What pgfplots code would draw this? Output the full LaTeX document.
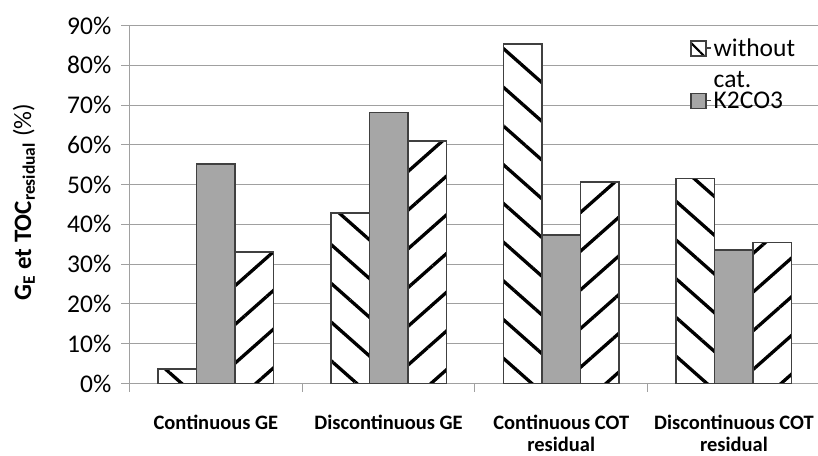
\documentclass[border=0pt]{standalone}
\usepackage{fontspec}
\setmainfont{Carlito}
\usepackage{pgfplots}
\pgfplotsset{compat=1.18}
\usetikzlibrary{patterns.meta}
\definecolor{barfill}{HTML}{A6A6A6}
\definecolor{bordercol}{HTML}{404040}
\definecolor{gridcol}{HTML}{A0A0A0}
\begin{document}
\begin{tikzpicture}
\useasboundingbox (-129.5pt,-71.5pt) rectangle (688.5pt,383.5pt);
\begin{axis}[
  at={(0pt,0pt)}, anchor=south west,
  scale only axis, width=690.8pt, height=358pt,
  xmin=-0.5, xmax=3.5, ymin=0, ymax=90,
  axis x line*=bottom, axis y line*=left,
  axis line style={gridcol, line width=1pt},
  ytick={0,10,...,90},
  yticklabels={0\%,10\%,20\%,30\%,40\%,50\%,60\%,70\%,80\%,90\%},
  yticklabel style={font=\fontsize{25.5}{28}\selectfont, anchor=east, inner sep=0pt, xshift=-10pt},
  ymajorgrids, grid style={gridcol, line width=1pt},
  xtick={-0.5,0.5,1.5,2.5,3.5}, xticklabels={},
  major tick length=8pt, tick align=outside,
  tick style={gridcol, line width=1pt},
  extra x ticks={0,1,2,3},
  extra x tick labels={Continuous GE, Discontinuous GE, {Continuous COT\\residual}, {Discontinuous COT\\residual}},
  extra x tick style={major tick length=0pt, grid=none},
  xticklabel style={font=\bfseries\fontsize{20.5}{22.5}\selectfont, align=center, anchor=north, inner sep=0pt, yshift=-31pt},
  ylabel={\textbf{G\textsubscript{E} et TOC\textsubscript{residual}} (\%)},
  ylabel style={at={(axis description cs:-0.1527,0.507)}, anchor=center, font=\fontsize{25}{30}\selectfont},
  legend style={draw=none, fill=none, at={(axis description cs:0.811,0.970)}, anchor=north west,
    inner sep=0pt, font=\fontsize{25.5}{30}\selectfont, row sep=30pt},
  legend cell align=left,
]
\addplot[ybar, bar width=0.223, bar shift=-0.223, draw=bordercol, line width=1.5pt,
  preaction={fill=white}, pattern={Lines[angle=-41.5,distance=29pt,line width=3.3pt]}, pattern color=black,
  legend image code/.code={\path (0pt,0pt) -- (20pt,0pt);\draw[draw=bordercol, line width=1.5pt, preaction={fill=white}, pattern={Lines[angle=-45,distance=20pt,line width=2pt]}, pattern color=black] (0pt,-8pt) rectangle (15pt,7pt);}]
  coordinates {(0,3.6) (1,42.9) (2,85.3) (3,51.6)};
\addlegendentry{\smash{\rlap{\raisebox{-31.7pt}{cat.}}}without}
\addplot[ybar, bar width=0.223, bar shift=0, draw=bordercol, line width=1.5pt, fill=barfill,
  legend image code/.code={\path (0pt,0pt) -- (20pt,0pt);\draw[draw=bordercol, line width=1.5pt, fill=barfill] (0pt,-8pt) rectangle (15pt,7pt);}]
  coordinates {(0,55.2) (1,68.1) (2,37.3) (3,33.5)};
\addlegendentry{K2CO3}
\addplot[ybar, bar width=0.223, bar shift=0.223, draw=bordercol, line width=1.5pt,
  preaction={fill=white}, pattern={Lines[angle=41.5,distance=29pt,line width=3.3pt]}, pattern color=black, forget plot]
  coordinates {(0,33.0) (1,61.0) (2,50.6) (3,35.5)};
\end{axis}
\end{tikzpicture}
\end{document}
